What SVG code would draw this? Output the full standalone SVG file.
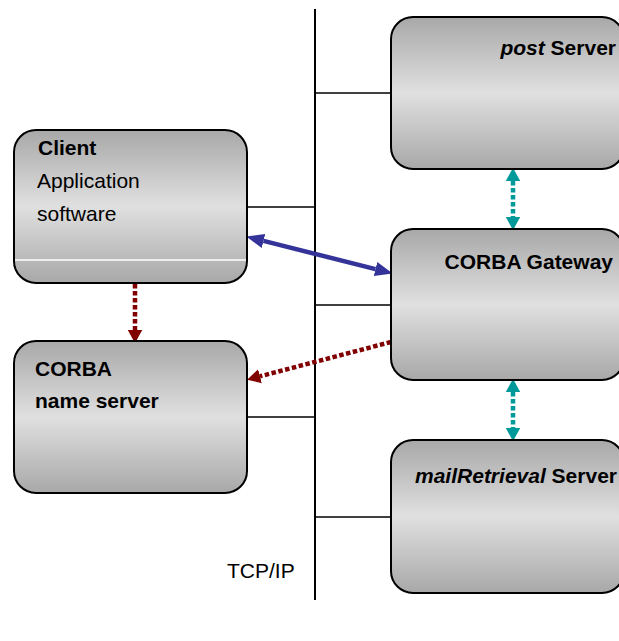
<svg xmlns="http://www.w3.org/2000/svg" width="619" height="641" viewBox="0 0 619 641">
  <style>
    .box { fill: url(#grey); stroke: #000; stroke-width: 2; }
    .lbl { font-family: "Liberation Sans", Arial, sans-serif; font-size: 21px; fill: #000; }
    .b { font-weight: bold; }
    .i { font-style: italic; }
    .bus { stroke: #000; stroke-width: 2; fill: none; }
    .tap { stroke: #000; stroke-width: 1.6; fill: none; }
    .rpc { stroke: #333399; stroke-width: 4.5; fill: none; }
    .lookup { stroke: #800000; stroke-width: 4.5; stroke-dasharray: 4.5 2.5; fill: none; }
    .relay { stroke: #009999; stroke-width: 4.5; stroke-dasharray: 4.5 2.5; fill: none; }
  </style>
  <defs>
    <linearGradient id="grey" x1="0" y1="0" x2="0" y2="1">
      <stop offset="0" stop-color="#a8a8a8"/>
      <stop offset="0.5" stop-color="#e0e0e0"/>
      <stop offset="1" stop-color="#a8a8a8"/>
    </linearGradient>
    <marker id="headBlue" markerUnits="userSpaceOnUse" markerWidth="20" markerHeight="20" viewBox="0 -8 18 16" refX="0" refY="0" orient="auto-start-reverse">
      <path d="M0,-6.5 L16,0 L0,6.5 z" fill="#333399"/>
    </marker>
    <marker id="headRed" markerUnits="userSpaceOnUse" markerWidth="20" markerHeight="20" viewBox="0 -8 18 16" refX="0" refY="0" orient="auto-start-reverse">
      <path d="M0,-6.5 L12,0 L0,6.5 z" fill="#800000"/>
    </marker>
    <marker id="headTeal" markerUnits="userSpaceOnUse" markerWidth="20" markerHeight="20" viewBox="0 -8 18 16" refX="0" refY="0" orient="auto-start-reverse">
      <path d="M0,-6.5 L12,0 L0,6.5 z" fill="#009999"/>
    </marker>
  </defs>

  <!-- network bus and taps -->
  <g id="connectors">
    <line class="bus" x1="315" y1="9" x2="315" y2="600"/>
    <line class="tap" x1="315" y1="93" x2="391" y2="93"/>
    <line class="tap" x1="247" y1="207" x2="315" y2="207"/>
    <line class="tap" x1="315" y1="305" x2="391" y2="305"/>
    <line class="tap" x1="247" y1="417" x2="315" y2="417"/>
    <line class="tap" x1="315" y1="517" x2="391" y2="517"/>

    <!-- client <-> gateway request path -->
    <line class="rpc" x1="263.5" y1="240.9" x2="375.5" y2="269.1" marker-start="url(#headBlue)" marker-end="url(#headBlue)"/>
    <!-- name lookups -->
    <line class="lookup" x1="135" y1="284" x2="135" y2="330" marker-end="url(#headRed)"/>
    <line class="lookup" x1="391" y1="342" x2="260" y2="376.3" marker-end="url(#headRed)"/>
    <!-- gateway <-> servers -->
    <line class="relay" x1="513" y1="181" x2="513" y2="217" marker-start="url(#headTeal)" marker-end="url(#headTeal)"/>
    <line class="relay" x1="513" y1="392" x2="513" y2="428" marker-start="url(#headTeal)" marker-end="url(#headTeal)"/>
  </g>

  <g id="post-server">
    <rect class="box" x="391" y="17" width="233" height="152" rx="22" ry="22"/>
    <text class="lbl b" x="616" y="55" text-anchor="end"><tspan class="i">post</tspan> Server</text>
  </g>

  <g id="client">
    <rect class="box" x="14" y="130" width="233" height="153" rx="22" ry="22"/>
    <line x1="15" y1="260" x2="246" y2="260" stroke="#ffffff" stroke-width="1.5"/>
    <text class="lbl b" x="38" y="155">Client</text>
    <text class="lbl" x="37" y="188">Application</text>
    <text class="lbl" x="37" y="221">software</text>
  </g>

  <g id="corba-gateway">
    <rect class="box" x="391" y="229" width="233" height="151" rx="22" ry="22"/>
    <text class="lbl b" x="613" y="269" text-anchor="end">CORBA Gateway</text>
  </g>

  <g id="name-server">
    <rect class="box" x="14" y="341" width="233" height="152" rx="22" ry="22"/>
    <text class="lbl b" x="35" y="376">CORBA</text>
    <text class="lbl b" x="35" y="408">name server</text>
  </g>

  <g id="mailretrieval-server">
    <rect class="box" x="391" y="440" width="233" height="153" rx="22" ry="22"/>
    <text class="lbl b" x="617" y="483" text-anchor="end"><tspan class="i">mailRetrieval</tspan> Server</text>
  </g>

  <text class="lbl" x="227" y="578">TCP/IP</text>
</svg>
